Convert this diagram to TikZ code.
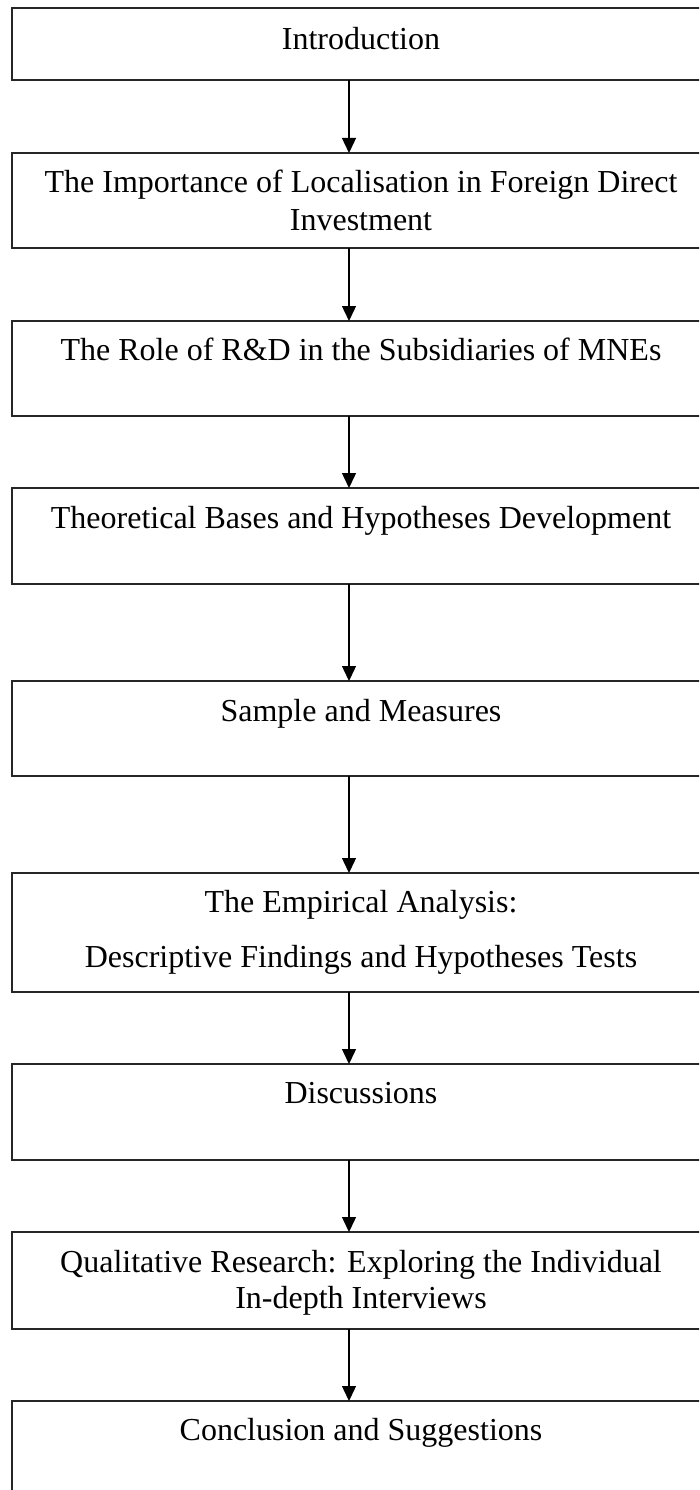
\documentclass[tikz,border=0pt]{standalone}
\usepackage{fontspec}
\setmainfont{Liberation Serif}
\usetikzlibrary{arrows.meta}
\begin{document}
\begin{tikzpicture}[x=1pt,y=-1pt,
  box/.style={draw=black!85, line width=1.4pt, rectangle, inner sep=0pt, outer sep=0pt,
    minimum width=698pt, anchor=north west},
  txt/.style={inner sep=0pt, anchor=base, font=\fontsize{32}{36.7}\selectfont},
  arr/.style={draw=black, line width=1.4pt, -{Triangle[length=15pt,width=14pt]}}]
\useasboundingbox (0,0) rectangle (699,1490);
\clip (0,0) rectangle (699,1490);
\fill[white] (0,0) rectangle (699,1490);
\coordinate (ax) at (349,0);
% boxes
\node[box, minimum height=72pt] (b1) at (12,8) {};
\node[box, minimum height=95pt] (b2) at (12,153) {};
\node[box, minimum height=95pt] (b3) at (12,321) {};
\node[box, minimum height=96pt] (b4) at (12,488) {};
\node[box, minimum height=95pt] (b5) at (12,681) {};
\node[box, minimum height=119pt] (b6) at (12,873) {};
\node[box, minimum height=96pt] (b7) at (12,1064) {};
\node[box, minimum height=97pt] (b8) at (12,1232) {};
\node[box, minimum height=120pt] (b9) at (12,1401) {};
% texts
\node[txt] (t1) at (361,50) {Introduction};
\node[txt] (t2a) at (361,193) {The Importance of Localisation in Foreign Direct};
\node[txt] (t2b) at (361,230) {Investment};
\node[txt] (t3) at (361,360) {The Role of R\&D in the Subsidiaries of MNEs};
\node[txt] (t4) at (361,528) {Theoretical Bases and Hypotheses Development};
\node[txt] (t5) at (361,721) {Sample and Measures};
\node[txt] (t6a) at (361,912) {The Empirical Analysis:};
\node[txt] (t6b) at (361,967) {Descriptive Findings and Hypotheses Tests};
\node[txt] (t7) at (361,1103) {Discussions};
\node[txt] (t8a) at (361,1272) {Qualitative Research: Exploring the Individual};
\node[txt] (t8b) at (361,1308) {In-depth Interviews};
\node[txt] (t9) at (361,1440) {Conclusion and Suggestions};
% arrows
\draw[arr] (b1.south -| ax) -- (b2.north -| ax);
\draw[arr] (b2.south -| ax) -- (b3.north -| ax);
\draw[arr] (b3.south -| ax) -- (b4.north -| ax);
\draw[arr] (b4.south -| ax) -- (b5.north -| ax);
\draw[arr] (b5.south -| ax) -- (b6.north -| ax);
\draw[arr] (b6.south -| ax) -- (b7.north -| ax);
\draw[arr] (b7.south -| ax) -- (b8.north -| ax);
\draw[arr] (b8.south -| ax) -- (b9.north -| ax);
\end{tikzpicture}
\end{document}
